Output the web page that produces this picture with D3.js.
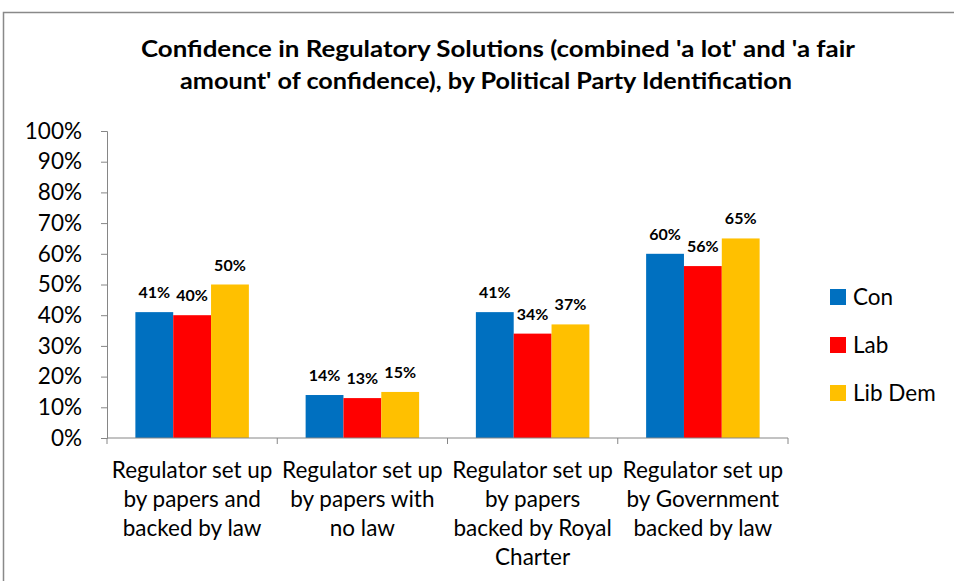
<!DOCTYPE html>
<html><head><meta charset="utf-8">
<script src="https://cdn.jsdelivr.net/npm/d3@7"></script>
<style>html,body{margin:0;padding:0;background:#fff;}svg{display:block;}</style>
</head><body>
<svg id="chart" width="954" height="581"></svg>
<script>
const categories = [
  ["Regulator set up", "by papers and", "backed by law"],
  ["Regulator set up", "by papers with", "no law"],
  ["Regulator set up", "by papers", "backed by Royal", "Charter"],
  ["Regulator set up", "by Government", "backed by law"]
];
const seriesNames = ["Con", "Lab", "Lib Dem"];
const conValues = [41, 14, 41, 60];
const labValues = [40, 13, 34, 56];
const libDemValues = [50, 15, 37, 65];
const seriesColors = ["#0070C0", "#FF0000", "#FFC000"];
const yTicks = [0,10,20,30,40,50,60,70,80,90,100];
const titleLines = ["Confidence in Regulatory Solutions (combined 'a lot' and 'a fair", "amount' of confidence), by Political Party Identification"];

const series = [conValues, labValues, libDemValues];
const FONT = "Lato, 'Open Sans', sans-serif";
const svg = d3.select("#chart");

// outer border
svg.append("rect").attr("x", 3.5).attr("y", 12.5).attr("width", 960).attr("height", 600)
  .attr("fill", "none").attr("stroke", "#898989").attr("stroke-width", 1.5);

// title
const title = svg.append("text").attr("font-family", FONT).attr("font-weight", "bold")
  .attr("font-size", 23).attr("text-anchor", "middle").attr("fill", "#000");
title.append("tspan").attr("x", 498).attr("y", 57).attr("textLength", 714).attr("lengthAdjust", "spacingAndGlyphs").text(titleLines[0]);
title.append("tspan").attr("x", 486).attr("y", 89).attr("textLength", 612).attr("lengthAdjust", "spacingAndGlyphs").text(titleLines[1]);

const x0 = d3.scaleBand().domain(d3.range(categories.length)).range([107, 788]).paddingInner(0).paddingOuter(0);
const bw = x0.bandwidth();
const barW = bw / (3 + 1.5);
const x1 = d3.scaleBand().domain(d3.range(3)).range([barW*0.75, bw - barW*0.75]).padding(0);
const y = d3.scaleLinear().domain([0, 100]).range([438, 131]);

// y axis
const yAxis = svg.append("g").attr("transform", "translate(107,0)")
  .call(d3.axisLeft(y).tickValues(yTicks).tickFormat(d => d + "%").tickSize(6).tickPadding(19));
yAxis.select(".domain").attr("stroke", "#868686");
yAxis.selectAll(".tick line").attr("stroke", "#868686");
yAxis.selectAll(".tick text").attr("font-family", FONT).attr("font-size", 22.5).attr("fill", "#000");

// bars
const groups = svg.append("g").selectAll("g").data(categories).join("g")
  .attr("transform", (d, i) => `translate(${x0(i)},0)`);
groups.each(function(c, ci) {
  const g = d3.select(this);
  series.forEach((vals, si) => {
    g.append("rect").attr("x", x1(si)).attr("width", x1.bandwidth())
      .attr("y", y(vals[ci])).attr("height", y(0) - y(vals[ci]))
      .attr("fill", seriesColors[si]);
    g.append("text").attr("x", x1(si) + x1.bandwidth()/2).attr("y", y(vals[ci]) - 14)
      .attr("text-anchor", "middle").attr("font-family", FONT).attr("font-weight", "bold")
      .attr("font-size", 16).attr("fill", "#000").text(vals[ci] + "%");
  });
});

// x axis
const xAxis = svg.append("g").attr("transform", "translate(0,438)");
xAxis.append("line").attr("x1", 107).attr("x2", 788).attr("stroke", "#868686");
const tickXs = d3.range(categories.length + 1).map(i => i < categories.length ? x0(i) : x0(i-1) + bw);
xAxis.selectAll("line.t").data(tickXs).join("line").attr("class", "t")
  .attr("x1", d => d).attr("x2", d => d).attr("y1", 0).attr("y2", 6).attr("stroke", "#868686");
categories.forEach((lines, i) => {
  const t = xAxis.append("text").attr("font-family", FONT).attr("font-size", 22.5)
    .attr("text-anchor", "middle").attr("fill", "#000");
  lines.forEach((ln, li) => {
    t.append("tspan").attr("x", x0(i) + bw/2).attr("y", 40 + li*29).text(ln);
  });
});

// legend
const leg = svg.append("g");
seriesNames.forEach((n, i) => {
  const cy = 297 + i*48;
  leg.append("rect").attr("x", 830).attr("y", cy - 8).attr("width", 16).attr("height", 16).attr("fill", seriesColors[i]);
  leg.append("text").attr("x", 853).attr("y", cy + 8).attr("font-family", FONT).attr("font-size", 22.5)
    .attr("fill", "#000").text(n);
});
</script>
</body></html>
